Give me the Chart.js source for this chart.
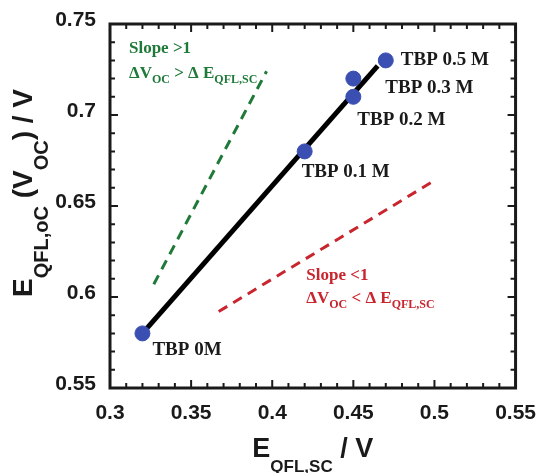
<!DOCTYPE html>
<html>
<head>
<meta charset="utf-8">
<script src="https://cdn.jsdelivr.net/npm/chart.js@4.4.1/dist/chart.umd.min.js"></script>
<style>
  html, body { margin: 0; padding: 0; background: #fff; }
  #wrap { width: 541px; height: 473px; }
</style>
</head>
<body>
<div id="wrap"><canvas id="qfl" width="541" height="473"></canvas></div>
<script>
// measured quasi-Fermi level splitting, one point per TBP concentration
var tbpLabels = ['TBP 0M', 'TBP 0.1 M', 'TBP 0.2 M', 'TBP 0.3 M', 'TBP 0.5 M'];
var eqflSc = [0.32, 0.42, 0.45, 0.45, 0.47];
var eqflOc = [0.58, 0.68, 0.71, 0.72, 0.73];

// linear fit through the points
var fitX = [0.32, 0.465];
var fitY = [0.58, 0.727];

// guide lines: steeper than 1 and shallower than 1
var steepX = [0.327, 0.3965];
var steepY = [0.607, 0.724];
var shallowX = [0.367, 0.50];
var shallowY = [0.592, 0.664];

var xTicks = [0.3, 0.35, 0.4, 0.45, 0.5, 0.55];
var yTicks = [0.55, 0.6, 0.65, 0.7, 0.75];

var SANS = '"Liberation Sans", Arial, sans-serif';
var SERIF = '"Liberation Serif", "Times New Roman", serif';
var GREEN = '#1f7a3a';
var RED = '#c9252f';
var BLUE = '#3b4fb3';
var INK = '#1a1a1a';

function pairs(xs, ys) {
  var out = [];
  for (var i = 0; i < xs.length; i++) out.push({x: xs[i], y: ys[i]});
  return out;
}

// text runs with subscripts, drawn left to right from (x, y)
function richWidth(ctx, parts) {
  var w = 0;
  parts.forEach(function(p) {
    ctx.font = p.font;
    w += ctx.measureText(p.t).width;
  });
  return w;
}
function drawRich(ctx, parts, x, y) {
  var cx = x;
  parts.forEach(function(p) {
    ctx.font = p.font;
    ctx.fillText(p.t, cx, y + (p.dy || 0));
    cx += ctx.measureText(p.t).width;
  });
}

// offsets (px) of each point label from its marker
var labelShift = [[10, 22], [-3, 26], [4, 28], [32, 14], [15, 5]];

var annotations = {
  id: 'annotations',
  afterDatasetsDraw: function(chart) {
    var ctx = chart.ctx, xs = chart.scales.x, ys = chart.scales.y;
    ctx.save();
    ctx.textBaseline = 'alphabetic';
    ctx.textAlign = 'left';

    ctx.fillStyle = INK;
    ctx.font = 'bold 19px ' + SERIF;
    for (var i = 0; i < tbpLabels.length; i++) {
      var px = xs.getPixelForValue(eqflSc[i]);
      var py = ys.getPixelForValue(eqflOc[i]);
      ctx.fillText(tbpLabels[i], px + labelShift[i][0], py + labelShift[i][1]);
    }

    var main = 'bold 17px ' + SERIF, sub = 'bold 12px ' + SERIF;
    ctx.fillStyle = GREEN;
    var gx = xs.getPixelForValue(0.3117);
    ctx.font = main;
    ctx.fillText('Slope >1', gx, ys.getPixelForValue(0.7341));
    drawRich(ctx, [
      {t: '\u0394V', font: main}, {t: 'OC', font: sub, dy: 5},
      {t: ' > \u0394 E', font: main}, {t: 'QFL,SC', font: sub, dy: 5}
    ], gx, ys.getPixelForValue(0.7203));

    ctx.fillStyle = RED;
    var rx = xs.getPixelForValue(0.421);
    ctx.font = main;
    ctx.fillText('Slope <1', rx, ys.getPixelForValue(0.6093));
    drawRich(ctx, [
      {t: '\u0394V', font: main}, {t: 'OC', font: sub, dy: 5},
      {t: ' < \u0394 E', font: main}, {t: 'QFL,SC', font: sub, dy: 5}
    ], rx, ys.getPixelForValue(0.5967));
    ctx.restore();
  }
};

var frame = {
  id: 'frame',
  afterDraw: function(chart) {
    var ctx = chart.ctx, a = chart.chartArea, xs = chart.scales.x, ys = chart.scales.y;
    ctx.save();
    ctx.strokeStyle = INK;
    ctx.lineWidth = 2;
    ctx.beginPath();
    // inward ticks on all four sides, minor every 0.01, major every 0.05
    var nx = Math.round((xs.max - xs.min) / 0.01);
    for (var i = 0; i <= nx; i++) {
      var px = xs.getPixelForValue(xs.min + i * 0.01);
      var len = i % 5 === 0 ? 8 : 5;
      ctx.moveTo(px, a.bottom); ctx.lineTo(px, a.bottom - len);
      ctx.moveTo(px, a.top); ctx.lineTo(px, a.top + len);
    }
    var ny = Math.round((ys.max - ys.min) / 0.01);
    for (var j = 0; j <= ny; j++) {
      var py = ys.getPixelForValue(ys.min + j * 0.01);
      var l2 = j % 5 === 0 ? 8 : 5;
      ctx.moveTo(a.left, py); ctx.lineTo(a.left + l2, py);
      ctx.moveTo(a.right, py); ctx.lineTo(a.right - l2, py);
    }
    ctx.stroke();
    ctx.lineWidth = 3;
    ctx.strokeRect(a.left, a.top, a.right - a.left, a.bottom - a.top);

    // axis titles
    ctx.fillStyle = INK;
    ctx.textBaseline = 'alphabetic';
    ctx.textAlign = 'left';
    var big = 'bold 27px ' + SANS, small = 'bold 17px ' + SANS;
    var xt = [
      {t: 'E', font: big}, {t: 'QFL,SC', font: small, dy: 15}, {t: ' / V', font: big}
    ];
    var w = richWidth(ctx, xt);
    drawRich(ctx, xt, (a.left + a.right) / 2 - w / 2, 457);

    var ybig = 'bold 28px ' + SANS, ysmall = 'bold 20px ' + SANS;
    var yt = [
      {t: 'E', font: ybig}, {t: 'QFL,oC', font: ysmall, dy: 16},
      {t: ' (V', font: ybig}, {t: 'OC', font: ysmall, dy: 16},
      {t: ') / V', font: ybig}
    ];
    var wy = richWidth(ctx, yt);
    ctx.translate(32, 193);
    ctx.rotate(-Math.PI / 2);
    drawRich(ctx, yt, -wy / 2, 0);
    ctx.restore();
  }
};

var ctx = document.getElementById('qfl').getContext('2d');
var chart = new Chart(ctx, {
  type: 'scatter',
  data: {
    datasets: [
      {
        label: 'TBP',
        data: pairs(eqflSc, eqflOc),
        backgroundColor: BLUE,
        borderColor: BLUE,
        pointRadius: 7.5,
        showLine: false
      },
      {
        label: 'fit',
        data: pairs(fitX, fitY),
        showLine: true,
        borderColor: '#000',
        borderWidth: 5,
        pointRadius: 0
      },
      {
        label: 'slope > 1',
        data: pairs(steepX, steepY),
        showLine: true,
        borderColor: GREEN,
        borderWidth: 3,
        borderDash: [10, 7],
        pointRadius: 0
      },
      {
        label: 'slope < 1',
        data: pairs(shallowX, shallowY),
        showLine: true,
        borderColor: RED,
        borderWidth: 3,
        borderDash: [10, 7],
        pointRadius: 0
      }
    ]
  },
  options: {
    responsive: false,
    animation: false,
    devicePixelRatio: 1,
    layout: { padding: { left: 50, top: 24, right: 24, bottom: 0 } },
    plugins: { legend: { display: false }, tooltip: { enabled: false } },
    scales: {
      x: {
        type: 'linear',
        min: 0.3,
        max: 0.55,
        afterBuildTicks: function(scale) {
          scale.ticks = xTicks.map(function(v) { return {value: v}; });
        },
        afterFit: function(scale) { scale.height = 85; },
        grid: { display: false },
        border: { display: false },
        ticks: {
          padding: 5,
          maxRotation: 0,
          color: INK,
          font: { family: SANS, size: 21, weight: 'bold' },
          callback: function(v) { return String(+v.toFixed(2)); }
        }
      },
      y: {
        type: 'linear',
        min: 0.55,
        max: 0.75,
        afterBuildTicks: function(scale) {
          scale.ticks = yTicks.map(function(v) { return {value: v}; });
        },
        afterFit: function(scale) { scale.width = 60; },
        grid: { display: false },
        border: { display: false },
        ticks: {
          padding: 6,
          labelOffset: -4,
          color: INK,
          font: { family: SANS, size: 21, weight: 'bold' },
          callback: function(v) { return String(+v.toFixed(2)); }
        }
      }
    }
  },
  plugins: [annotations, frame]
});
</script>
</body>
</html>
